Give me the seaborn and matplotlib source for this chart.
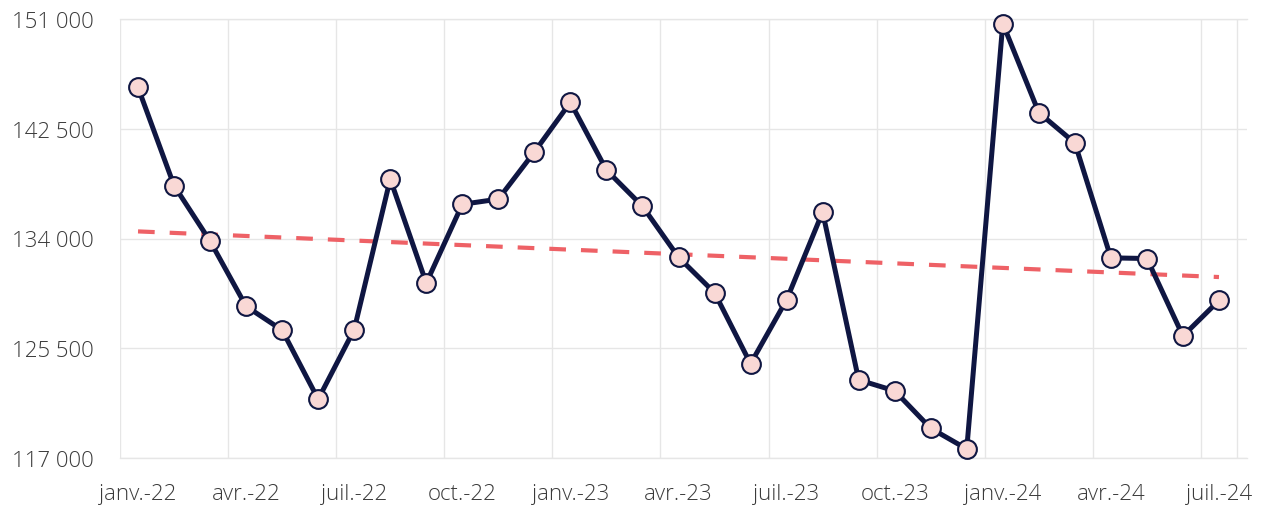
import numpy as np
import pandas as pd
import matplotlib
matplotlib.use("Agg")
import matplotlib.pyplot as plt
import matplotlib.ticker as mticker
import seaborn as sns

# ── Data ────────────────────────────────────────────────────────
# monthly series, janv. 2022 → juil. 2024 (one point per month)
values = [
    145700, 138100, 133800, 128750, 126900, 121550, 126950, 138600,
    130550, 136650, 137050, 140700, 144550, 139300, 136500, 132550,
    129800, 124300, 129250, 136050, 123050, 122200, 119300, 117700,
    150650, 143750, 141400, 132500, 132450, 126450, 129200,
]
x_labels = ["janv.-22", "avr.-22", "juil.-22", "oct.-22",
            "janv.-23", "avr.-23", "juil.-23", "oct.-23",
            "janv.-24", "avr.-24", "juil.-24"]
y_ticks = [117000, 125500, 134000, 142500, 151000]

NAVY = "#0f1642"
PINK = "#f9d8d5"
RED = "#ee6166"
GRID = "#e6e6e6"
TEXT = "#3a3a3a"

# each month is one equal slot, point centred in the slot
df = pd.DataFrame({"month": np.arange(len(values)) + 0.5, "value": values})

# ── Figure ──────────────────────────────────────────────────────
sns.set_theme(style="white")
plt.rcParams["font.family"] = ["Open Sans", "DejaVu Sans"]
plt.rcParams["font.weight"] = "light"

fig = plt.figure(figsize=(12.66, 5.10), dpi=100)
ax = fig.add_axes([120 / 1266, 51 / 510, (1247 - 120) / 1266, (459 - 20) / 510])

# trend line (linear fit of the series)
sns.regplot(data=df, x="month", y="value", scatter=False, ci=None, ax=ax,
            line_kws=dict(color=RED, lw=3, linestyle=(0, (4, 3.6)), zorder=2))

sns.lineplot(data=df, x="month", y="value", ax=ax, color=NAVY, lw=3.6,
             marker="o", markersize=13.5, markerfacecolor=PINK,
             markeredgecolor=NAVY, markeredgewidth=1.5, zorder=3, clip_on=False)

n = len(values)
slot = (1237 - 120) / n                     # px per month
ax.set_xlim(0, (1247 - 120) / slot)
ax.set_ylim(y_ticks[0], y_ticks[-1])
ax.axvline(n, color=GRID, lw=1, zorder=0)

# y axis
ax.set_yticks(y_ticks)
ax.yaxis.set_major_formatter(mticker.FuncFormatter(lambda v, p: f"{v:,.0f}".replace(",", " ")))
ax.tick_params(axis="y", length=0, pad=19, labelsize=16, labelcolor=TEXT)

# x axis: gridlines on quarter starts, labels under the quarter's first point
ax.set_xticks(np.arange(0, n, 3))
ax.set_xticklabels([])
ax.set_xticks(np.arange(0, n, 3) + 0.5, labels=x_labels, minor=True)
ax.tick_params(axis="x", which="major", length=6.5, width=1, color=GRID, direction="out")
ax.tick_params(axis="x", which="minor", length=0, pad=18, labelsize=16, labelcolor=TEXT)

ax.grid(True, which="major", color=GRID, lw=1)
ax.set_axisbelow(True)
for side in ["left", "right"]:
    ax.spines[side].set_visible(False)
for side in ["top", "bottom"]:
    ax.spines[side].set_color(GRID)
    ax.spines[side].set_linewidth(1)

ax.set_xlabel("")
ax.set_ylabel("")

fig.savefig("out.png", dpi=100)
